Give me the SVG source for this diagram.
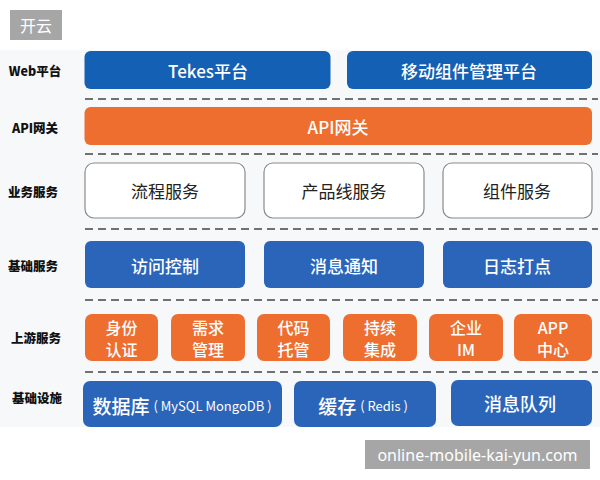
<svg xmlns="http://www.w3.org/2000/svg" width="600" height="480" viewBox="0 0 600 480">
<style>
.lbl{font-family:"Noto Sans CJK SC","Noto Sans",sans-serif;font-size:12.5px;font-weight:900;fill:#111;text-anchor:middle;dominant-baseline:central}
.t{font-family:"Noto Sans CJK SC","Noto Sans",sans-serif;font-size:17px;text-anchor:middle;dominant-baseline:central}
.w{fill:#fff;font-weight:500}
.k{fill:#222;font-weight:400}
.o{font-size:16px}
.blueA{fill:#1460b4}
.blueB{fill:#2b65ba}
.orange{fill:#ee6e2f}
.white{fill:#fff;stroke:#8a8a8a;stroke-width:1.2}
.sep{stroke:#444;stroke-width:1.6;stroke-dasharray:8 5;fill:none}
.small{font-size:13px;font-weight:400}
</style>
<rect x="0" y="0" width="600" height="480" fill="#fff"/>
<rect x="0" y="50" width="600" height="377" fill="#f6f8fa"/>
<g id="badge">
<rect x="10" y="10" width="52" height="30" fill="#a6a6a6"/>
<text x="36" y="25" class="t" style="font-size:16px;fill:#fff">开云</text>
</g>
<g id="row-labels">
<text x="35" y="70" class="lbl">Web平台</text>
<text x="35" y="127" class="lbl">API网关</text>
<text x="33" y="191" class="lbl">业务服务</text>
<text x="33" y="265" class="lbl">基础服务</text>
<text x="36" y="337" class="lbl">上游服务</text>
<text x="37" y="397" class="lbl">基础设施</text>
</g>
<g id="separators">
<line x1="85" y1="99" x2="598" y2="99" class="sep"/>
<line x1="85" y1="154" x2="598" y2="154" class="sep"/>
<line x1="85" y1="229" x2="598" y2="229" class="sep"/>
<line x1="85" y1="300" x2="598" y2="300" class="sep"/>
<line x1="85" y1="372" x2="598" y2="372" class="sep"/>
</g>
<g id="tekes">
<rect x="84.5" y="51" width="246" height="38" rx="6" class="blueA"/>
<text x="208" y="70" class="t w">Tekes平台</text>
</g>
<g id="mobile-platform">
<rect x="347" y="51" width="245" height="38" rx="6" class="blueA"/>
<text x="469" y="70" class="t w">移动组件管理平台</text>
</g>
<g id="api-gateway">
<rect x="84.5" y="107" width="507.5" height="38" rx="6" class="orange"/>
<text x="338" y="126" class="t w">API网关</text>
</g>
<g id="flow-service">
<rect x="85" y="163" width="160" height="55" rx="9" class="white"/>
<text x="165" y="190" class="t k">流程服务</text>
</g>
<g id="product-service">
<rect x="264" y="163" width="160" height="55" rx="9" class="white"/>
<text x="344" y="190" class="t k">产品线服务</text>
</g>
<g id="component-service">
<rect x="443" y="163" width="149" height="55" rx="9" class="white"/>
<text x="517" y="190" class="t k">组件服务</text>
</g>
<g id="access-control">
<rect x="85" y="241" width="160" height="47" rx="6" class="blueB"/>
<text x="165" y="265" class="t w">访问控制</text>
</g>
<g id="message-notify">
<rect x="264" y="241" width="160" height="47" rx="6" class="blueB"/>
<text x="344" y="265" class="t w">消息通知</text>
</g>
<g id="logging">
<rect x="443" y="241" width="149" height="47" rx="6" class="blueB"/>
<text x="517" y="265" class="t w">日志打点</text>
</g>
<g id="auth">
<rect x="85" y="314" width="73" height="47" rx="7" class="orange"/>
<text x="121.5" y="327" class="t w o">身份</text>
<text x="121.5" y="349" class="t w o">认证</text>
</g>
<g id="requirements">
<rect x="171" y="314" width="74" height="47" rx="7" class="orange"/>
<text x="208" y="327" class="t w o">需求</text>
<text x="208" y="349" class="t w o">管理</text>
</g>
<g id="code-hosting">
<rect x="257" y="314" width="73" height="47" rx="7" class="orange"/>
<text x="293.5" y="327" class="t w o">代码</text>
<text x="293.5" y="349" class="t w o">托管</text>
</g>
<g id="ci">
<rect x="343" y="314" width="74" height="47" rx="7" class="orange"/>
<text x="380" y="327" class="t w o">持续</text>
<text x="380" y="349" class="t w o">集成</text>
</g>
<g id="enterprise-im">
<rect x="429" y="314" width="74" height="47" rx="7" class="orange"/>
<text x="466" y="327" class="t w o">企业</text>
<text x="466" y="349" class="t w o">IM</text>
</g>
<g id="app-center">
<rect x="514" y="314" width="78" height="47" rx="7" class="orange"/>
<text x="553" y="327" class="t w o">APP</text>
<text x="553" y="349" class="t w o">中心</text>
</g>
<g id="database">
<rect x="83" y="381" width="199" height="46" rx="7" class="blueB"/>
<text x="182" y="405" class="t w"><tspan style="font-size:19px">数据库</tspan><tspan class="small" dx="4">( MySQL MongoDB )</tspan></text>
</g>
<g id="cache">
<rect x="294" y="381" width="142" height="46" rx="7" class="blueB"/>
<text x="363" y="405" class="t w"><tspan style="font-size:19px">缓存</tspan><tspan class="small" dx="4">( Redis )</tspan></text>
</g>
<g id="message-queue">
<rect x="451" y="380" width="141" height="46" rx="7" class="blueB"/>
<text x="520" y="403" class="t w" style="font-size:18px">消息队列</text>
</g>
<g id="watermark">
<rect x="365" y="440" width="225" height="29" fill="#a6a6a6"/>
<text x="477.5" y="455" class="t" style="font-size:16px;fill:#fff;font-family:'Noto Sans','Liberation Sans',sans-serif">online-mobile-kai-yun.com</text>
</g>
</svg>
